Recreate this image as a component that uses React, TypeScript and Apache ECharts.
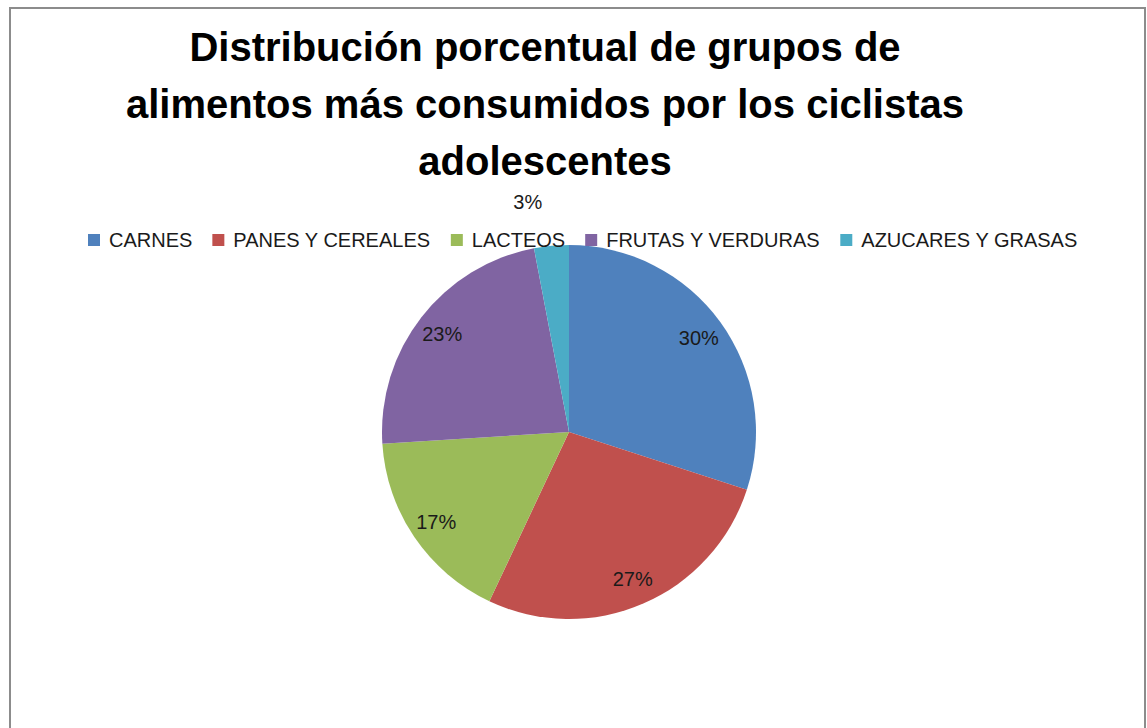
import React, { useEffect, useRef } from "react";
import * as echarts from "echarts";

const TITLE = "Distribución porcentual de grupos de\nalimentos más consumidos por los ciclistas\nadolescentes";
const categories = ["CARNES", "PANES Y CEREALES", "LACTEOS", "FRUTAS Y VERDURAS", "AZUCARES Y GRASAS"];
const values = [30, 27, 17, 23, 3];
const colors = ["#4F81BD", "#C0504D", "#9BBB59", "#8064A2", "#4BACC6"];
const outsideLabelIndex = 4;

export default function App() {
  const ref = useRef<HTMLDivElement>(null);
  useEffect(() => {
    if (!ref.current) return;
    const chart = echarts.init(ref.current, undefined, { renderer: "svg" });
    const font = "'Liberation Sans', Arial, sans-serif";
    const mainData = categories.map((name, i) => ({
      name,
      value: values[i],
      itemStyle: { color: colors[i] },
    }));
    const labelData = categories.map((name, i) => {
      const item: any = { name, value: values[i] };
      if (i === outsideLabelIndex) {
        item.label = { position: "outside" };
        item.labelLine = { show: false, length: 44, length2: 0 };
      }
      return item;
    });
    chart.setOption({
      animation: false,
      backgroundColor: "#ffffff",
      title: {
        text: TITLE,
        left: 545,
        top: 18,
        textAlign: "center",
        padding: 0,
        textStyle: {
          fontFamily: font,
          fontWeight: "bold",
          fontSize: 40,
          lineHeight: 57,
          color: "#000000",
        },
      },
      legend: {
        data: categories,
        left: 88,
        top: 230,
        padding: 0,
        icon: "rect",
        itemWidth: 12,
        itemHeight: 12,
        itemGap: 20,
        selectedMode: false,
        textStyle: {
          fontFamily: font,
          fontSize: 20,
          color: "#1a1a1a",
          padding: [0, 0, 0, 4],
        },
      },
      graphic: [
        {
          type: "rect",
          shape: { x: 10, y: 8, width: 1135, height: 760 },
          style: { fill: "none", stroke: "#8c8c8c", lineWidth: 2 },
          silent: true,
          z: 0,
        },
      ],
      series: [
        {
          type: "pie",
          center: [569, 432],
          radius: [0, 187],
          startAngle: 90,
          clockwise: true,
          label: { show: false },
          labelLine: { show: false },
          silent: true,
          data: mainData,
        },
        {
          type: "pie",
          center: [569, 432],
          radius: [128, 187],
          startAngle: 90,
          clockwise: true,
          silent: true,
          avoidLabelOverlap: false,
          itemStyle: { color: "rgba(0,0,0,0)" },
          emphasis: { disabled: true },
          label: {
            show: true,
            position: "inside",
            formatter: "{c}%",
            fontFamily: font,
            fontSize: 20,
            color: "#1a1a1a",
          },
          data: labelData,
        },
      ],
    });
    return () => chart.dispose();
  }, []);
  return (
    <div style={{ position: "fixed", left: 0, top: 0, width: 1147, height: 728, background: "#fff" }}>
      <div ref={ref} style={{ width: 1147, height: 728 }} />
    </div>
  );
}
